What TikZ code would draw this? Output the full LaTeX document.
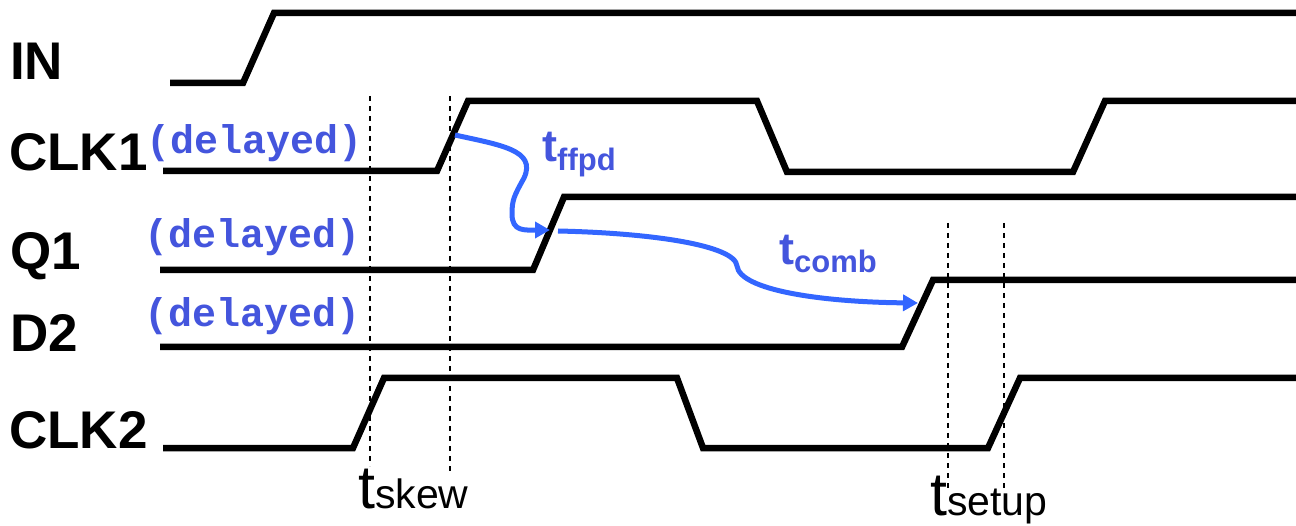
\documentclass[tikz,border=0pt]{standalone}
\usepackage{fontspec}
\setmainfont{Liberation Sans}
\setmonofont{Liberation Mono}
\usetikzlibrary{arrows.meta}
\definecolor{lblue}{RGB}{68,85,221}
\definecolor{ablue}{RGB}{51,102,255}
\begin{document}
\begin{tikzpicture}[x=1pt,y=-1pt,
  sig/.style={line width=6.5pt},
  guide/.style={line width=2.6pt, dash pattern=on 5pt off 5pt},
  arr/.style={line width=5pt, color=ablue, -{Triangle[length=15pt,width=16pt]}},
  siglabel/.style={anchor=base west, inner sep=0pt, font=\fontsize{53}{53}\selectfont\bfseries},
  delabel/.style={anchor=base west, inner sep=0pt, text=lblue, font=\fontsize{40}{40}\selectfont\ttfamily\bfseries},
  tlabel/.style={anchor=base west, inner sep=0pt, text=lblue, font=\fontsize{45}{45}\selectfont\bfseries},
  tmeas/.style={anchor=base west, inner sep=0pt}]
\useasboundingbox (0,0) rectangle (1296,526);
% signal labels
\node[siglabel] (lin) at (10,80) {IN};
\node[siglabel] (lclk1) at (9,171) {CLK1};
\node[siglabel] (lq1) at (10,270) {Q1};
\node[siglabel] (ld2) at (10,352) {D2};
\node[siglabel] (lclk2) at (9,448) {CLK2};
\node[delabel] (d1) at (146,154) {(delayed)};
\node[delabel] (d2) at (144,248) {(delayed)};
\node[delabel] (d3) at (144,327) {(delayed)};
% waveforms
\draw[sig] (170,83) -- (243,83) -- (274,13) -- (1296,13);
\draw[sig] (163,171) -- (437,171) -- (468,101) -- (757,101) -- (787,172) -- (1073,172) -- (1105,101) -- (1296,101);
\draw[sig] (160,270) -- (533,270) -- (564,197) -- (1296,197);
\draw[sig] (160,347) -- (902,347) -- (933,280) -- (1296,280);
\draw[sig] (163,448) -- (353,448) -- (384,378) -- (677,378) -- (703,448) -- (988,448) -- (1020,378) -- (1296,378);
% guides
\draw[guide] (370,96) -- (370,466);
\draw[guide] (450,96) -- (450,472);
\draw[guide] (948,223) -- (948,490);
\draw[guide] (1004,223) -- (1004,490);
% measurement labels
\node[tmeas] (tskew) at (358,508) {{\fontsize{61}{61}\selectfont t}{\fontsize{41}{41}\selectfont skew}};
\node[tmeas] (tsetup) at (930,515) {{\fontsize{61}{61}\selectfont t}{\fontsize{41}{41}\selectfont setup}};
\node[tlabel] (tffpd) at (542,162) {t\raisebox{-9pt}{\fontsize{31}{31}\selectfont ffpd}};
\node[tlabel] (tcomb) at (779,265) {t\raisebox{-8pt}{\fontsize{31}{31}\selectfont comb}};
% arrows
\coordinate (a1s) at (455,135);
\coordinate (a1e) at (550,230);
\coordinate (a2s) at (558,231);
\coordinate (a2e) at (918,303);
\draw[arr] (a1s) .. controls (500,145) and (537,150) .. (524,178) .. controls (514,196) and (512,200) .. (512,214) .. controls (512,232) and (525,230) .. (a1e);
\draw[arr] (a2s) .. controls (650,233) and (735,245) .. (737,266) .. controls (740,290) and (820,302) .. (a2e);
\end{tikzpicture}
\end{document}
